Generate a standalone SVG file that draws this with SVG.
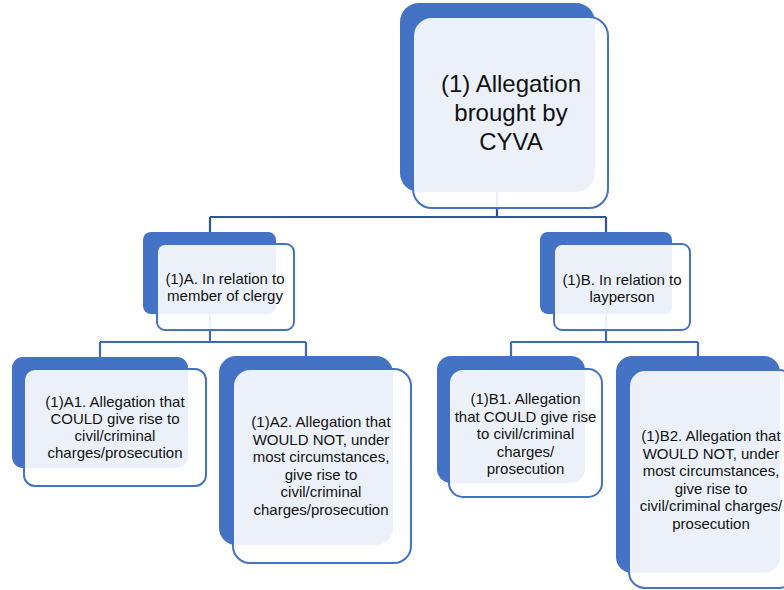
<svg xmlns="http://www.w3.org/2000/svg" width="784" height="590" viewBox="0 0 784 590">
<style>
.back{fill:#4472C4;}
.front{fill:#FFFFFF;fill-opacity:0.9;stroke:#4472C4;stroke-width:2;}
.conn{fill:none;stroke-width:2.2;}
.c1{stroke:#2F5597;}
.c2{stroke:#3F68B5;}
text{font-family:"Liberation Sans",Arial,sans-serif;fill:#111;text-anchor:middle;}
.t1{font-size:24px;}
.t2{font-size:15px;}
</style>
<rect width="784" height="590" fill="#FFFFFF"/>
<g id="connectors">
<path class="conn c1" d="M497,192 V217 M210,217 H606 M210,217 V232 M606,217 V232"/>
<path class="conn c2" d="M210,314 V342 M100,342 H306 M100,342 V357 M306,342 V356"/>
<path class="conn c2" d="M606,314 V342 M511,342 H698 M511,342 V356 M698,342 V356"/>
</g>
<g id="node1">
<rect class="back" x="400" y="3" width="195" height="189" rx="19"/>
<rect class="front" x="413" y="17" width="195" height="191" rx="19"/>
<text class="t1"><tspan x="511" y="92">(1) Allegation</tspan><tspan x="511" y="121">brought by</tspan><tspan x="511" y="150">CYVA</tspan></text>
</g>
<g id="node1A">
<rect class="back" x="143" y="232" width="133" height="82" rx="8"/>
<rect class="front" x="157" y="244" width="137" height="86" rx="8"/>
<text class="t2"><tspan x="225" y="284">(1)A. In relation to</tspan><tspan x="225" y="301">member of clergy</tspan></text>
</g>
<g id="node1B">
<rect class="back" x="540" y="232" width="132" height="82" rx="8"/>
<rect class="front" x="554" y="244" width="136" height="86" rx="8"/>
<text class="t2"><tspan x="622" y="285">(1)B. In relation to</tspan><tspan x="622" y="302">layperson</tspan></text>
</g>
<g id="node1A1">
<rect class="back" x="12" y="357" width="176" height="111" rx="11"/>
<rect class="front" x="24" y="369" width="182" height="117" rx="11"/>
<text class="t2"><tspan x="115" y="407">(1)A1. Allegation that</tspan><tspan x="115" y="424">COULD give rise to</tspan><tspan x="115" y="441">civil/criminal</tspan><tspan x="115" y="458">charges/prosecution</tspan></text>
</g>
<g id="node1A2">
<rect class="back" x="219" y="356" width="174" height="189" rx="17"/>
<rect class="front" x="233" y="369" width="178" height="194" rx="17"/>
<text class="t2"><tspan x="321" y="427">(1)A2. Allegation that</tspan><tspan x="321" y="444.5">WOULD NOT, under</tspan><tspan x="321" y="462">most circumstances,</tspan><tspan x="321" y="479.5">give rise to</tspan><tspan x="321" y="497">civil/criminal</tspan><tspan x="321" y="514.5">charges/prosecution</tspan></text>
</g>
<g id="node1B1">
<rect class="back" x="437" y="356" width="148" height="127" rx="14"/>
<rect class="front" x="449" y="369" width="153" height="128" rx="14"/>
<text class="t2"><tspan x="525.5" y="404">(1)B1. Allegation</tspan><tspan x="525.5" y="421.5">that COULD give rise</tspan><tspan x="525.5" y="439">to civil/criminal</tspan><tspan x="525.5" y="456.5">charges/</tspan><tspan x="525.5" y="474">prosecution</tspan></text>
</g>
<g id="node1B2">
<rect class="back" x="616" y="356" width="164" height="217" rx="16"/>
<rect class="front" x="629" y="370" width="166" height="218" rx="16"/>
<text class="t2"><tspan x="711" y="441">(1)B2. Allegation that</tspan><tspan x="711" y="458.5">WOULD NOT, under</tspan><tspan x="711" y="476">most circumstances,</tspan><tspan x="711" y="493.5">give rise to</tspan><tspan x="711" y="511">civil/criminal charges/</tspan><tspan x="711" y="528.5">prosecution</tspan></text>
</g>
</svg>
